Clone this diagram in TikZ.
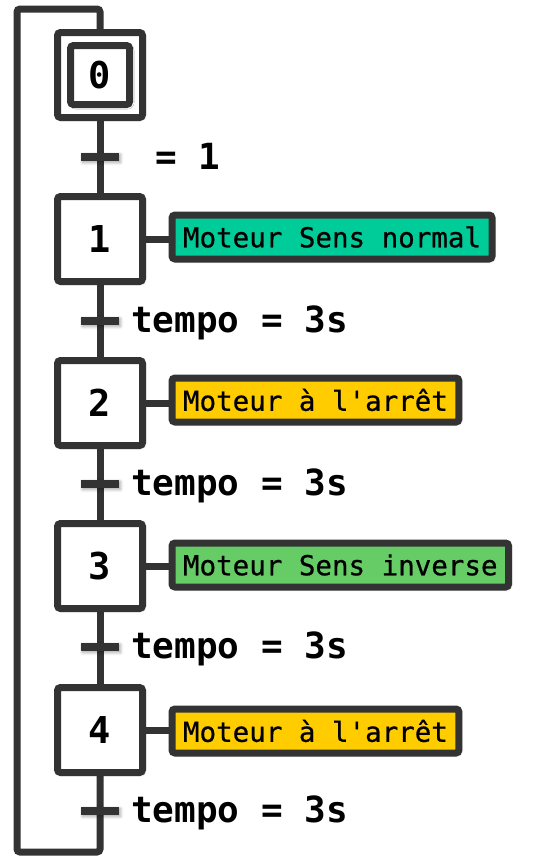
\documentclass[tikz,border=0pt]{standalone}
\usepackage{fontspec}
\setmonofont{DejaVu Sans Mono}
\newfontfamily\actfont{DejaVu Sans Mono}[FakeBold=0.7]
\usetikzlibrary{shadows.blur}
\definecolor{ln}{HTML}{333333}
\definecolor{tealA}{HTML}{00CC99}
\definecolor{greenA}{HTML}{66CC66}
\definecolor{yelA}{HTML}{FFCC00}
\begin{document}
\begin{tikzpicture}[x=1pt,y=-1pt,
 sh/.style={blur shadow={shadow blur steps=6, shadow xshift=1.5pt, shadow yshift=-1.5pt, shadow opacity=35, shadow blur radius=3pt}},
 stepbox/.style={draw=ln, line width=7pt, fill=white, minimum size=85pt, inner sep=0pt, rounded corners=3pt, sh, font=\ttfamily\bfseries\fontsize{37}{37}\selectfont},
 actbox/.style={draw=ln, line width=7pt, anchor=west, minimum height=44pt, inner xsep=11pt, inner ysep=0pt, rounded corners=3pt, sh, font=\actfont\fontsize{27.5}{27.5}\selectfont},
 trbar/.style={fill=ln, minimum width=38pt, minimum height=8pt, inner sep=0pt, sh},
 link/.style={line width=7pt, draw=ln},
 trlabel/.style={anchor=base west, inner sep=0pt, font=\ttfamily\bfseries\fontsize{36}{36}\selectfont}
]
\useasboundingbox (0,0) rectangle (550,860);
% transition positions
\coordinate (c0) at (100,157);
\coordinate (c1) at (100,321);
\coordinate (c2) at (100,484);
\coordinate (c3) at (100,647);
\coordinate (c4) at (100,811);
% loop and links drawn first
\coordinate (lb) at (100,852);
\coordinate (lbl) at (17,852);
\coordinate (ltl) at (17,9);
\coordinate (lt) at (100,9);
\draw[link, rounded corners=3pt] (100,730) -- (lb) -- (lbl) -- (ltl) -- (lt) -- (100,75);
\draw[link] (100,75) -- (100,730);
% steps
\node[draw=ln, line width=7pt, fill=white, minimum size=85pt, rounded corners=3pt, sh] (s0o) at (100,75) {};
\node[stepbox, minimum size=59pt, sh/.style={}] (s0) at (100,75) {0};
\node[stepbox] (s1) at (100,239) {1};
\node[stepbox] (s2) at (100,403) {2};
\node[stepbox] (s3) at (100,566) {3};
\node[stepbox] (s4) at (100,730) {4};
% transition bars
\node[trbar] (t0) at (c0) {};
\node[trbar] (t1) at (c1) {};
\node[trbar] (t2) at (c2) {};
\node[trbar] (t3) at (c3) {};
\node[trbar] (t4) at (c4) {};
% transition labels
\node[trlabel] (l0) at (155,169) {= 1};
\node[trlabel] (l1) at (131,332) {tempo = 3s};
\node[trlabel] (l2) at (131,495) {tempo = 3s};
\node[trlabel] (l3) at (131,658) {tempo = 3s};
\node[trlabel] (l4) at (131,822) {tempo = 3s};
% actions
\node[actbox, fill=tealA] (a1) at (168.5,237) {Moteur Sens normal};
\node[actbox, fill=yelA] (a2) at (168.5,400) {Moteur à l'arrêt};
\node[actbox, fill=greenA] (a3) at (168.5,565) {Moteur Sens inverse};
\node[actbox, fill=yelA] (a4) at (168.5,731) {Moteur à l'arrêt};
\draw[link] (s1.east) -- (s1.east -| a1.west);
\draw[link] (s2.east) -- (s2.east -| a2.west);
\draw[link] (s3.east) -- (s3.east -| a3.west);
\draw[link] (s4.east) -- (s4.east -| a4.west);
\end{tikzpicture}
\end{document}
